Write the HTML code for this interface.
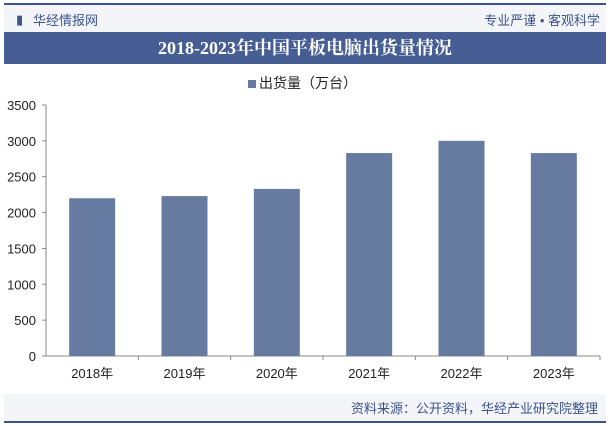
<!DOCTYPE html>
<html><head><meta charset="utf-8"><style>
body{margin:0;width:610px;height:426px;background:#fff;font-family:"Liberation Sans","Noto Sans CJK SC",sans-serif;position:relative;overflow:hidden}
.abs{position:absolute}
</style></head><body>
<div class="abs" style="left:4px;top:3px;width:602px;height:2px;background:#3b5490"></div>
<div class="abs" style="left:4px;top:5px;width:602px;height:27px;background:#f4f5f9"></div>
<div class="abs" style="left:16px;top:12px;font-size:13px;color:#3b5490">▮</div>
<div class="abs" style="left:33px;top:10px;font-size:13px;color:#3b5490">华经情报网</div>
<div class="abs" style="right:10px;top:10px;font-size:13px;color:#3b5490">专业严谨 • 客观科学</div>
<div class="abs" style="left:4px;top:32px;width:602px;height:32px;background:#465e94;color:#fff;font-family:'Liberation Serif','Noto Serif CJK SC',serif;font-weight:bold;font-size:18px;text-align:center;line-height:32px">2018-2023年中国平板电脑出货量情况</div>
<div class="abs" style="left:248px;top:73px;font-size:14px;color:#222"><span style="display:inline-block;width:8px;height:8px;background:#677ba1;margin-right:3px"></span>出货量（万台）</div>
<div class="abs" style="left:4px;top:394px;width:602px;height:27px;background:#f4f5f9"></div>
<div class="abs" style="right:12px;top:398px;font-size:13px;color:#3b5490">资料来源：公开资料，华经产业研究院整理</div>
<div class="abs" style="left:4px;top:421px;width:602px;height:2px;background:#3b5490"></div>
<svg id="c" class="abs" style="left:0;top:0" width="610" height="426"></svg>
<script>
const categories=["2018年","2019年","2020年","2021年","2022年","2023年"];
const values=[2200,2230,2330,2830,3000,2830];
const ticks=[0,500,1000,1500,2000,2500,3000,3500];
const svg=document.getElementById('c'),NS="http://www.w3.org/2000/svg";
const x0=46,x1=600,yb=356,yt=105,max=3500;
const y=v=>yb-(v/max)*(yb-yt);
const bw=(x1-x0)/categories.length;
function mk(t,a){const e=document.createElementNS(NS,t);for(const k in a)e.setAttribute(k,a[k]);svg.appendChild(e);return e;}
let ax=mk('line',{x1:x0,y1:yt,x2:x0,y2:yb,stroke:'#888'});


ticks.forEach(t=>{
 const tk=mk('line',{x1:x0-4,y1:y(t),x2:x0,y2:y(t),stroke:'#888'});
 
 
 const tx=mk('text',{x:x0-10,y:y(t)+5,'text-anchor':'end','font-size':13,fill:'#222','font-family':'Liberation Sans, sans-serif'});
 tx.textContent=t;
 
 
});
let xa=mk('line',{x1:x0,y1:yb,x2:x1,y2:yb,stroke:'#888'});


categories.forEach((c,i)=>{
 const cx=x0+bw*(i+0.5);
 const tk=mk('line',{x1:x0+bw*(i+1),y1:yb,x2:x0+bw*(i+1),y2:yb+4,stroke:'#888'});
 
 
 const r=mk('rect',{x:cx-23,y:y(values[i]),width:46,height:yb-y(values[i]),fill:'#677ba1'});
 
 
 const tx=mk('text',{x:cx,y:yb+22,'text-anchor':'middle','font-size':13,fill:'#222','font-family':'Liberation Sans, Noto Sans CJK SC, sans-serif'});
 tx.textContent=c;
 
 
});
</script>
</body></html>
